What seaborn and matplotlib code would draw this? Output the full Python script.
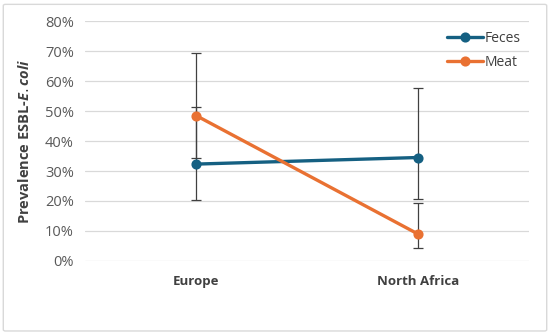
import numpy as np
import pandas as pd
import matplotlib
matplotlib.use("Agg")
import matplotlib.pyplot as plt
import seaborn as sns
from matplotlib.patches import FancyBboxPatch
from matplotlib.ticker import PercentFormatter

# Data
regions = ["Europe", "North Africa"]
feces = [0.323, 0.345]
feces_low = [0.203, 0.207]
feces_high = [0.513, 0.578]
meat = [0.485, 0.090]
meat_low = [0.344, 0.044]
meat_high = [0.693, 0.194]

blue = "#156082"
orange = "#E97132"

sns.set_style("white")
plt.rcParams["font.family"] = ["Open Sans", "DejaVu Sans"]
plt.rcParams["mathtext.fontset"] = "custom"
plt.rcParams["mathtext.it"] = "Open Sans:italic:bold"

df = pd.DataFrame({
    "region": regions * 2,
    "value": feces + meat,
    "sample": ["Feces"] * 2 + ["Meat"] * 2,
})

fig = plt.figure(figsize=(5.5, 3.35), dpi=100)
ax = fig.add_axes([0.1545, 0.2209, 0.8073, 0.7164])

# frame around the chart
fig.patches.append(FancyBboxPatch((0.006, 0.012), 0.988, 0.975,
                                  boxstyle="round,pad=0,rounding_size=0.004",
                                  transform=fig.transFigure, fill=False,
                                  edgecolor="#d9d9d9", linewidth=1.0))

# error bars (drawn first so lines sit on top)
xs = np.arange(len(regions))
for vals, lo, hi in [(feces, feces_low, feces_high), (meat, meat_low, meat_high)]:
    vals = np.array(vals)
    err = [vals - np.array(lo), np.array(hi) - vals]
    ax.errorbar(xs, vals, yerr=err, fmt="none", ecolor="#404040",
                elinewidth=0.9, capsize=3.5, capthick=0.9, zorder=2)

sns.pointplot(data=df, x="region", y="value", hue="sample",
              palette=[blue, orange], errorbar=None, markers="o",
              markersize=5.5, linewidth=2.4, ax=ax, zorder=3)

ax.set_ylim(0, 0.8)
ax.set_xlim(-0.5, 1.5)
ax.set_yticks(np.arange(0, 0.81, 0.1))
ax.yaxis.set_major_formatter(PercentFormatter(1.0, decimals=0))
ax.grid(axis="y", color="#d9d9d9", linewidth=0.9)
ax.set_axisbelow(True)
sns.despine(ax=ax, left=True, bottom=True)
ax.tick_params(axis="both", length=0)
ax.tick_params(axis="y", labelsize=10.5, labelcolor="#595959", pad=8)
ax.tick_params(axis="x", labelsize=9.5, labelcolor="#404040", pad=10)
for lbl in ax.get_xticklabels():
    lbl.set_fontweight("bold")

ax.set_xlabel("")
ax.set_ylabel(r"Prevalence ESBL-$\mathit{E. coli}$", fontsize=10.5,
              fontweight="bold", color="#404040")
ax.yaxis.set_label_coords(-0.12, 0.5)

leg = ax.legend(loc="upper right", bbox_to_anchor=(1.0, 0.995), frameon=False,
                fontsize=10, handlelength=2.6, handletextpad=0.1,
                labelspacing=0.7, borderaxespad=0.2)
for t in leg.get_texts():
    t.set_color("#404040")

fig.savefig("out.png", dpi=100)
